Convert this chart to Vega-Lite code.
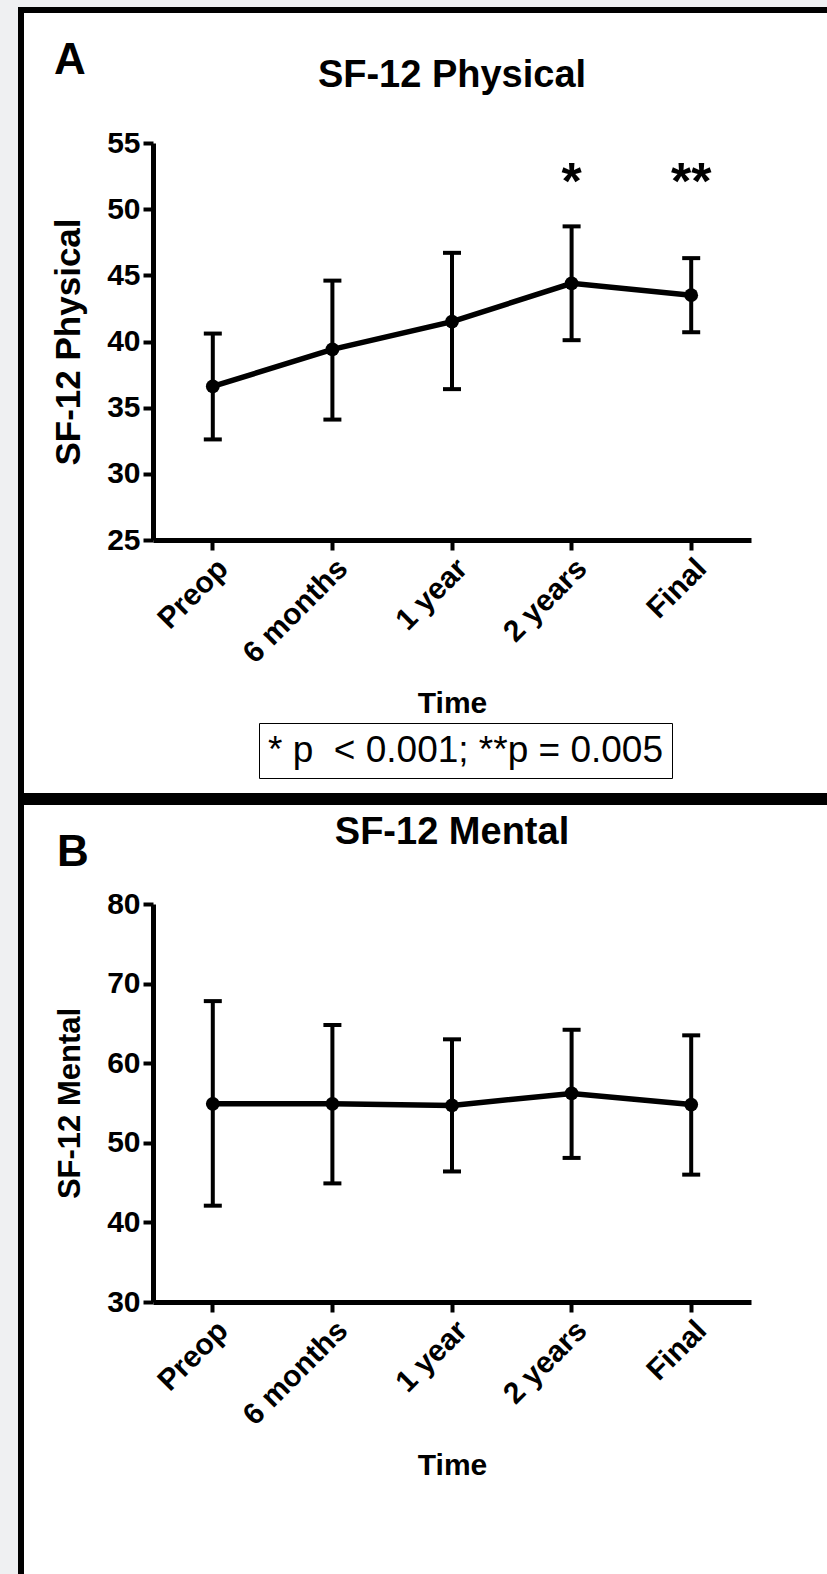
{
  "$schema": "https://vega.github.io/schema/vega-lite/v6.json",
  "background": "#eff0f2",
  "padding": {"left": 18, "top": 7, "right": -14, "bottom": -15},
  "spacing": 0,
  "datasets": {
    "physical": [
      {"Time": "Preop", "mean": 36.6, "lower": 32.6, "upper": 40.6, "sig": ""},
      {"Time": "6 months", "mean": 39.4, "lower": 34.1, "upper": 44.6, "sig": ""},
      {"Time": "1 year", "mean": 41.5, "lower": 36.4, "upper": 46.7, "sig": ""},
      {"Time": "2 years", "mean": 44.4, "lower": 40.1, "upper": 48.7, "sig": "*"},
      {"Time": "Final", "mean": 43.5, "lower": 40.7, "upper": 46.3, "sig": "**"}
    ],
    "mental": [
      {"Time": "Preop", "mean": 54.9, "lower": 42.1, "upper": 67.8},
      {"Time": "6 months", "mean": 54.9, "lower": 44.9, "upper": 64.8},
      {"Time": "1 year", "mean": 54.7, "lower": 46.4, "upper": 63.0},
      {"Time": "2 years", "mean": 56.2, "lower": 48.1, "upper": 64.2},
      {"Time": "Final", "mean": 54.8, "lower": 46.0, "upper": 63.5}
    ],
    "titleA": [{"label": "SF-12 Physical"}],
    "titleB": [{"label": "SF-12 Mental"}]
  },
  "vconcat": [
    {
      "width": 820,
      "height": 786,
      "title": {"text": "A", "anchor": "start", "frame": "group", "dx": 33, "offset": -108, "baseline": "alphabetic", "fontSize": 44, "fontWeight": "bold", "color": "black"},
      "encoding": {
        "x": {
          "field": "Time", "type": "nominal", "sort": null,
          "scale": {"type": "band", "domain": ["Preop", "6 months", "1 year", "2 years", "Final"], "range": [132, 730], "paddingInner": 0, "paddingOuter": 0},
          "axis": {"title": "Time", "labelAngle": -45, "offset": -256, "titleFontSize": 30, "titlePadding": 20}
        }
      },
      "layer": [
        {
          "data": {"name": "physical"},
          "mark": {"type": "rule", "strokeWidth": 4, "color": "black"},
          "encoding": {
            "y": {"field": "lower", "type": "quantitative", "title": "SF-12 Physical",
                  "scale": {"domain": [25, 55], "range": [530, 133], "nice": false, "zero": false},
                  "axis": {"values": [25, 30, 35, 40, 45, 50, 55], "offset": -132, "titleFontSize": 35, "titlePadding": 20}},
            "y2": {"field": "upper"}
          }
        },
        {
          "data": {"name": "physical"},
          "mark": {"type": "tick", "thickness": 4, "size": 18, "color": "black", "opacity": 1},
          "encoding": {"y": {"field": "lower", "type": "quantitative", "title": "SF-12 Physical"}}
        },
        {
          "data": {"name": "physical"},
          "mark": {"type": "tick", "thickness": 4, "size": 18, "color": "black", "opacity": 1},
          "encoding": {"y": {"field": "upper", "type": "quantitative", "title": "SF-12 Physical"}}
        },
        {
          "data": {"name": "physical"},
          "mark": {"type": "line", "strokeWidth": 5.5, "color": "black"},
          "encoding": {
            "y": {"field": "mean", "type": "quantitative", "title": "SF-12 Physical"}
          }
        },
        {
          "data": {"name": "physical"},
          "mark": {"type": "point", "filled": true, "size": 190, "opacity": 1},
          "encoding": {
            "y": {"field": "mean", "type": "quantitative", "title": "SF-12 Physical"},
            "color": {
              "datum": "* p\u00a0 < 0.001; **p = 0.005",
              "scale": {"range": ["black"]},
              "legend": {
                "title": null, "orient": "none", "legendX": 238, "legendY": 713,
                "symbolSize": 0, "symbolOpacity": 0, "symbolStrokeWidth": 0, "symbolType": "circle", "labelOffset": -37,
                "labelFont": "Liberation Sans", "labelFontSize": 37, "labelFontWeight": "normal",
                "labelColor": "black", "labelLimit": 1000, "strokeColor": "black", "padding": 9
              }
            }
          }
        },
        {
          "data": {"name": "physical"},
          "mark": {"type": "text", "fontSize": 52, "fontWeight": "bold", "baseline": "alphabetic", "color": "black"},
          "encoding": {
            "y": {"datum": 50.8, "type": "quantitative", "title": "SF-12 Physical"},
            "text": {"field": "sig"}
          }
        },
        {
          "data": {"name": "titleA"},
          "mark": {"type": "text", "fontSize": 38, "fontWeight": "bold", "baseline": "alphabetic", "color": "black"},
          "encoding": {
            "x": {"datum": "1 year"},
            "y": {"datum": 59.2, "type": "quantitative", "title": "SF-12 Physical"},
            "text": {"field": "label"}
          }
        }
      ]
    },
    {
      "width": 820,
      "height": 790,
      "title": {"text": "B", "anchor": "start", "frame": "group", "dx": 36, "offset": -108, "baseline": "alphabetic", "fontSize": 44, "fontWeight": "bold", "color": "black"},
      "encoding": {
        "x": {
          "field": "Time", "type": "nominal", "sort": null,
          "scale": {"type": "band", "domain": ["Preop", "6 months", "1 year", "2 years", "Final"], "range": [132, 730], "paddingInner": 0, "paddingOuter": 0},
          "axis": {"title": "Time", "labelAngle": -45, "offset": -290, "titleFontSize": 30, "titlePadding": 20}
        }
      },
      "layer": [
        {
          "data": {"name": "mental"},
          "mark": {"type": "rule", "strokeWidth": 4, "color": "black"},
          "encoding": {
            "y": {"field": "lower", "type": "quantitative", "title": "SF-12 Mental",
                  "scale": {"domain": [30, 80], "range": [500, 102], "nice": false, "zero": false},
                  "axis": {"values": [30, 40, 50, 60, 70, 80], "offset": -132, "titleFontSize": 31, "titlePadding": 20}},
            "y2": {"field": "upper"}
          }
        },
        {
          "data": {"name": "mental"},
          "mark": {"type": "tick", "thickness": 4, "size": 18, "color": "black", "opacity": 1},
          "encoding": {"y": {"field": "lower", "type": "quantitative", "title": "SF-12 Mental"}}
        },
        {
          "data": {"name": "mental"},
          "mark": {"type": "tick", "thickness": 4, "size": 18, "color": "black", "opacity": 1},
          "encoding": {"y": {"field": "upper", "type": "quantitative", "title": "SF-12 Mental"}}
        },
        {
          "data": {"name": "mental"},
          "mark": {"type": "line", "strokeWidth": 5.5, "color": "black"},
          "encoding": {"y": {"field": "mean", "type": "quantitative", "title": "SF-12 Mental"}}
        },
        {
          "data": {"name": "mental"},
          "mark": {"type": "point", "filled": true, "size": 190, "opacity": 1, "color": "black"},
          "encoding": {"y": {"field": "mean", "type": "quantitative", "title": "SF-12 Mental"}}
        },
        {
          "data": {"name": "titleB"},
          "mark": {"type": "text", "fontSize": 38, "fontWeight": "bold", "baseline": "alphabetic", "color": "black"},
          "encoding": {
            "x": {"datum": "1 year"},
            "y": {"datum": 87.55, "type": "quantitative", "title": "SF-12 Mental"},
            "text": {"field": "label"}
          }
        }
      ]
    }
  ],
  "config": {
    "font": "Liberation Sans",
    "view": {"stroke": "black", "strokeWidth": 6, "fill": "white"},
    "axis": {
      "grid": false,
      "domainColor": "black", "domainWidth": 5,
      "tickColor": "black", "tickWidth": 4, "tickSize": 10,
      "labelColor": "black", "labelFontWeight": "bold", "labelFontSize": 30, "labelPadding": 3,
      "titleColor": "black", "titleFontWeight": "bold"
    }
  }
}
